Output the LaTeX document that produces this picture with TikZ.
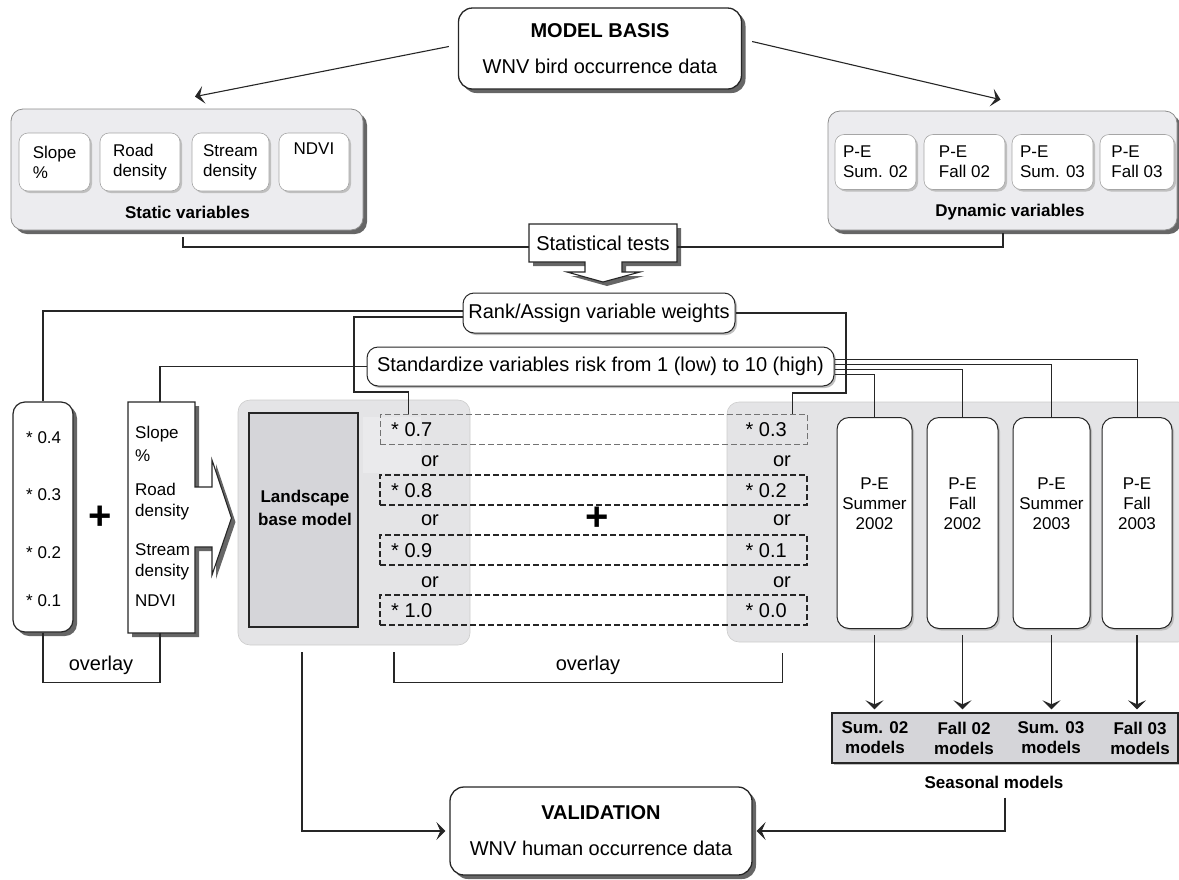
\documentclass[tikz,border=0pt]{standalone}
\usepackage{fontspec}
\setmainfont{Liberation Sans}
\usetikzlibrary{calc,arrows.meta,shadows}
\definecolor{ink}{HTML}{262626}
\definecolor{grpfill}{HTML}{ECECEF}
\definecolor{layerfill}{HTML}{E4E4E6}
\definecolor{lfill}{HTML}{D5D5D9}
\definecolor{glintfill}{HTML}{EAEAEC}
\tikzset{
  lab/.style={font=\fontsize{20}{24}\selectfont, inner sep=0pt},
  labs/.style={font=\fontsize{17}{20}\selectfont, inner sep=0pt},
  bl/.style={font=\fontsize{17}{20}\selectfont\bfseries, inner sep=0pt},
  shd/.style={drop shadow={shadow xshift=4pt, shadow yshift=-4pt, fill=black!60, opacity=1}},
  lshd/.style={drop shadow={shadow xshift=2pt, shadow yshift=-2pt, fill=black!25, opacity=1}},
  box/.style={lab, align=center, draw=ink, line width=1.3pt, rounded corners=14pt, fill=white, shd},
  grpbox/.style={draw=black!45, line width=0.8pt, rounded corners=12pt, fill=grpfill, shd, inner sep=0pt},
  cell/.style={labs, align=left, draw=black!35, line width=0.6pt, rounded corners=9pt, fill=white, lshd},
  pill/.style={lab, draw=ink, line width=1pt, rounded corners=11pt, fill=white, lshd},
  wbox/.style={draw=ink, line width=1.2pt, rounded corners=12pt, fill=white, shd, inner sep=0pt},
  layerbox/.style={draw=black!20, line width=0.6pt, rounded corners=12pt, fill=layerfill, inner sep=0pt},
  lbox/.style={draw=ink, line width=1.2pt, fill=lfill, inner sep=0pt},
  tall/.style={draw=ink, line width=1pt, rounded corners=12pt, fill=white, lshd, inner sep=0pt},
  sbox/.style={draw=ink, line width=1.4pt, fill=lfill, lshd, inner sep=0pt},
  row/.style={draw=ink, line width=1.6pt, dash pattern=on 6pt off 3pt, inner sep=0pt},
  link/.style={draw=ink, line width=1.1pt},
  arr/.style={link, -{Stealth[length=9pt, width=18pt, inset=4pt]}},
  plus/.style={font=\fontsize{40}{40}\selectfont\bfseries, inner sep=0pt},
}
\begin{document}
\begin{tikzpicture}[x=1pt, y=-1pt]
  \useasboundingbox (0,0) rectangle (1179,879);
  % model basis
  \node[box, minimum width=283pt, minimum height=81pt] (model) at (600,48.5) {\textbf{MODEL BASIS}\\[12pt]WNV bird occurrence data};

  % static and dynamic variables
  \node[grpbox, minimum width=352pt, minimum height=121pt] (static) at (187,169.5) {};
  \node[grpbox, minimum width=349pt, minimum height=119pt] (dyn) at (1002.5,170.5) {};
  \foreach \nm/\x/\w/\t in {slope/54.5/71/{Slope\\\%}, road/140/80/{Road\\density}, stream/230.5/77/{Stream\\density}, ndvi/314/70/{NDVI\\\strut}}
    \node[cell, minimum width=\w pt, minimum height=58pt] (\nm) at (\x,162) {\t};
  \foreach \nm/\x/\w/\t in {pes2/875.5/81/{P-E\\Sum. 02}, pef2/964.5/81/{P-E\\Fall 02}, pes3/1052.5/81/{P-E\\Sum. 03}, pef3/1137/74/{P-E\\Fall 03}}
    \node[cell, minimum width=\w pt, minimum height=55pt] (\nm) at (\x,162) {\t};
  \node[bl] (statlbl) at (187.5,212) {Static variables};
  \node[bl] (dynlbl) at (1010,212) {Dynamic variables};
  \coordinate (stin) at ($(static.north)+(8,-12)$);
  \coordinate (dyin) at ($(dyn.north)+(-2,-11)$);
  \draw[arr] ($(model.west)+(-9,-2)$) -- (stin);
  \draw[arr] ($(model.east)+(10,-7)$) -- (dyin);

  % statistical tests
  \coordinate (st) at (603,243);
  \draw[link, fill=white, shd] ($(st)+(-74,-19)$) -- ++(148,0) -- ++(0,38) -- ++(-55,0) -- ++(0,10) -- ++(18,0) -- ++(-37,10) -- ++(-36,-10) -- ++(18,0) -- ++(0,-10) -- ++(-56,0) -- cycle;
  \node[lab, minimum width=148pt, minimum height=38pt] (stats) at (st) {Statistical tests};
  \draw[link] ($(static.south)+(-4,7)$) |- ([yshift=-4pt]stats.west);
  \draw[link, line width=1.8pt] ($(dyn.south)+(0.5,3)$) |- ([yshift=-4pt]stats.east);

  % rank and standardize
  \node[pill, minimum width=272pt, minimum height=40pt] (rank) at (599,313) {Rank/Assign variable weights};
  \node[pill, minimum width=467pt, minimum height=39pt] (stand) at (600.5,366.5) {Standardize variables risk from 1 (low) to 10 (high)};

  % weights and variables
  \node[wbox, minimum width=60pt, minimum height=230pt] (weights) at (43,517) {};
  \foreach \i/\y/\t in {1/437/0.4, 2/494/0.3, 3/552/0.2, 4/600/0.1}
    \node[labs, anchor=base west] (wt\i) at (26,\y+6) {* \t};
  \node[plus] (plusa) at (100,518) {+};
  \coordinate (vars) at (128,402);
  \draw[link, fill=white, shd] (vars) -- ++(67,0) -- ++(0,85) -- ++(17,0) -- ++(0,-27) -- ++(19.5,58) -- ++(-19.5,57) -- ++(0,-28) -- ++(-17,0) -- ++(0,86) -- ++(-67,0) -- cycle;
  \foreach \i/\y/\t in {1/432/Slope, 2/455/\%, 3/489/Road, 4/510/density, 5/549/Stream, 6/570/density, 7/600/NDVI}
    \node[labs, anchor=base west] (vt\i) at (135,\y+6) {\t};
  \draw[link] ([yshift=2pt]rank.west) -| (weights.north);
  \draw[link] (stand.west) -| ($(vars)+(32,0)$);
  \node[lab] (ovla) at (101,665) {overlay};
  \draw[link] (weights.south) -- ++(0,50) -| ($(vars)+(32,231)$);

  % landscape and seasonal layers
  \node[layerbox, minimum width=232pt, minimum height=245pt] (lgrp) at (354,522.5) {};
  \node[layerbox, minimum width=463pt, minimum height=240pt] (rgrp) at (958.5,522) {};
  \fill[glintfill] (363,417) rectangle (421,473);
  \node[lbox, minimum width=109pt, minimum height=214pt] (lbase) at (303.5,520) {};
  \node[bl, align=center] (ltext) at (305,508) {Landscape\\[3pt]base model};
  \node[row, draw=black!55, line width=1pt, minimum width=427pt, minimum height=30pt] (row1) at (593.5,429) {};
  \foreach \i/\y in {2/490, 3/550, 4/610}
    \node[row, minimum width=427pt, minimum height=30pt] (row\i) at (593.5,\y) {};
  \foreach \i/\y/\a/\b in {1/429/0.7/0.3, 2/490/0.8/0.2, 3/550/0.9/0.1, 4/610/1.0/0.0} {
    \node[lab, anchor=base west] (wl\i) at (391,\y+7) {* \a};
    \node[lab, anchor=base east] (wr\i) at (787,\y+7) {* \b};
  }
  \foreach \i/\y in {1/461, 2/520, 3/582} {
    \node[lab] (orl\i) at (430,\y) {or};
    \node[lab] (orr\i) at (782,\y) {or};
  }
  \node[plus] (plusb) at (597,519) {+};
  \draw[link] ([yshift=-4pt]rank.west) -| (354,392) -| ([xshift=29pt]row1.north west);
  \draw[link] (rank.east) -| (846,393) -| ([xshift=-15pt]row1.north east);

  \foreach \i/\x/\w/\t in {1/874.5/75/{P-E\\Summer\\2002}, 2/962.5/71/{P-E\\Fall\\2002}, 3/1051.5/77/{P-E\\Summer\\2003}, 4/1137/70/{P-E\\Fall\\2003}} {
    \node[tall, minimum width=\w pt, minimum height=211pt] (pe\i) at (\x,523) {};
    \node[labs, align=center] (pt\i) at ([yshift=19pt]pe\i.center) {\t};
  }
  \foreach \i/\s in {4/7.5, 3/2.5, 2/-2.5, 1/-7.5}
    \draw[link, line width=0.8pt] ([yshift=\s pt]stand.east) -| (pe\i.north);

  % seasonal models
  \node[sbox, minimum width=346pt, minimum height=50pt] (season) at (1005,738) {};
  \foreach \i/\x/\t in {1/875/Sum. 02, 2/964/Fall 02, 3/1051/Sum. 03, 4/1140/Fall 03}
    \node[bl, align=center] (sm\i) at (\x,738) {\t\\models};
  \foreach \i in {1,...,4}
    \draw[arr, shorten >=3pt] ([yshift=-6pt]pe\i.south) -- (pe\i.south |- season.north);
  \node[bl] (seaslbl) at (994,782) {Seasonal models};

  % overlay and validation
  \node[lab] (ovlb) at (588,665) {overlay};
  \draw[link] ($(lgrp.south)+(40,7)$) -- ++(0,30) -| ($(row4.south east)+(-25,27)$);
  \node[box, minimum width=302pt, minimum height=88pt] (val) at (601,831) {\textbf{VALIDATION}\\[12pt]WNV human occurrence data};
  \draw[arr, shorten >=4pt] ($(lgrp.south)+(-52,7)$) |- (val.west);
  \draw[arr, shorten >=4pt] ($(season.south)+(0,34)$) |- (val.east);
\end{tikzpicture}
\end{document}
